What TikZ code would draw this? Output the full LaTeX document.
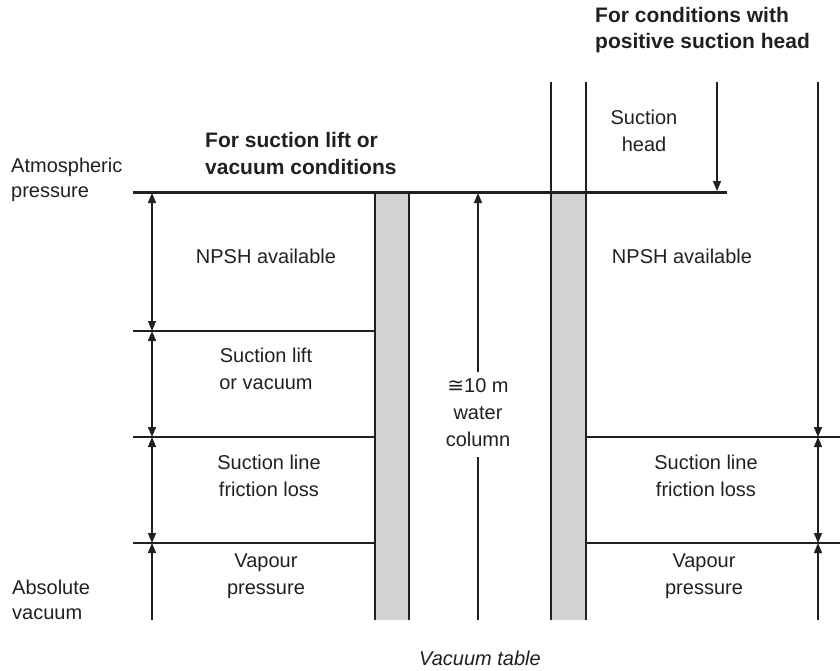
\documentclass[tikz,border=0pt]{standalone}
\usepackage{fontspec}
\setmainfont{Liberation Sans}
\newfontfamily\symfont{DejaVu Sans}
\usetikzlibrary{arrows.meta}
\definecolor{pillar}{HTML}{D1D2D4}
\definecolor{ink}{HTML}{231F20}
\tikzset{
  rule/.style={draw=ink, line width=1.3pt},
  heavyrule/.style={draw=ink, line width=3pt},
  tipped/.style={rule, -{Triangle[length=10pt,width=8pt]}},
  bitipped/.style={rule, {Triangle[length=10pt,width=8pt]}-{Triangle[length=10pt,width=8pt]}},
  lbl/.style={font=\fontsize{20}{27}\selectfont, text=ink, align=center, inner sep=0pt},
  lbll/.style={font=\fontsize{20}{25}\selectfont, text=ink, align=left, anchor=west, inner sep=0pt},
  ttl/.style={font=\bfseries\fontsize{21}{26.5}\selectfont, text=ink, align=left, anchor=west, inner sep=0pt},
  pillarfill/.style={fill=pillar, draw=none}
}
\begin{document}
\begin{tikzpicture}[x=1pt,y=-1pt]
\useasboundingbox (0,0) rectangle (840,670);

% coordinates
\coordinate (atmL) at (133,192);
\coordinate (atmR) at (727,192);
\coordinate (l1a) at (133,331); \coordinate (l1b) at (375,331);
\coordinate (l2a) at (133,437); \coordinate (l2b) at (375,437);
\coordinate (l3a) at (133,543); \coordinate (l3b) at (375,543);
\coordinate (r2a) at (586,437); \coordinate (r2b) at (840,437);
\coordinate (r3a) at (586,543); \coordinate (r3b) at (840,543);
\coordinate (la0) at (152,193); \coordinate (la1) at (152,331);
\coordinate (la2) at (152,437); \coordinate (la3) at (152,543);
\coordinate (la4) at (152,620);
\coordinate (ra0) at (818,82); \coordinate (ra2) at (818,437);
\coordinate (ra3) at (818,543); \coordinate (ra4) at (818,620);
\coordinate (sh0) at (717,82); \coordinate (sh1) at (717,191);
\coordinate (ma0) at (478,193); \coordinate (ma1) at (478,372);
\coordinate (ma2) at (478,457); \coordinate (ma3) at (478,620);

% pillars
\fill[pillarfill] (375,192) rectangle (409,620);
\draw[rule] (375,192) -- (375,620);
\draw[rule] (409,192) -- (409,620);
\fill[pillarfill] (551,192) rectangle (586,620);
\draw[rule] (551,82) -- (551,620);
\draw[rule] (586,82) -- (586,620);

% level lines
\draw[rule] (l1a) -- (l1b);
\draw[rule] (l2a) -- (l2b);
\draw[rule] (l3a) -- (l3b);
\draw[rule] (r2a) -- (r2b);
\draw[rule] (r3a) -- (r3b);

% left dimension arrows
\draw[bitipped] (la0) -- (la1);
\draw[bitipped] (la1) -- (la2);
\draw[bitipped] (la2) -- (la3);
\draw[tipped] (la4) -- (la3);

% right dimension arrows
\draw[tipped] (ra0) -- (ra2);
\draw[bitipped] (ra2) -- (ra3);
\draw[tipped] (ra4) -- (ra3);

% suction head arrow
\draw[tipped] (sh0) -- (sh1);

% middle arrow
\draw[tipped] (ma1) -- (ma0);
\draw[rule] (ma2) -- (ma3);

% atmospheric line
\draw[heavyrule] (atmL) -- (atmR);

% texts
\node[ttl] (t1) at (595,30) {For conditions with\\positive suction head};
\node[ttl] (t2) at (205,153.5) {For suction lift or\\vacuum conditions};
\node[lbll] (atm) at (11,180) {Atmospheric\\pressure};
\node[lbll] (abs) at (12,600) {Absolute\\vacuum};
\node[lbl] (shd) at (644,131) {Suction\\head};
\node[lbl] (npl) at (266,256) {NPSH available};
\node[lbl] (npr) at (682,256) {NPSH available};
\node[lbl] (slv) at (266,369) {Suction lift\\or vacuum};
\node[lbl] (sfl) at (269,476) {Suction line\\friction loss};
\node[lbl] (sfr) at (706,476) {Suction line\\friction loss};
\node[lbl] (vpl) at (266,576) {Vapour\\pressure};
\node[lbl] (vpr) at (704,576) {Vapour\\pressure};
\node[lbl] (wc) at (478,413) {{\symfont ≅}10 m\\water\\column};
\node[lbl, font=\itshape\fontsize{20}{24}\selectfont] (cap) at (480,658) {Vacuum table};
\end{tikzpicture}
\end{document}
